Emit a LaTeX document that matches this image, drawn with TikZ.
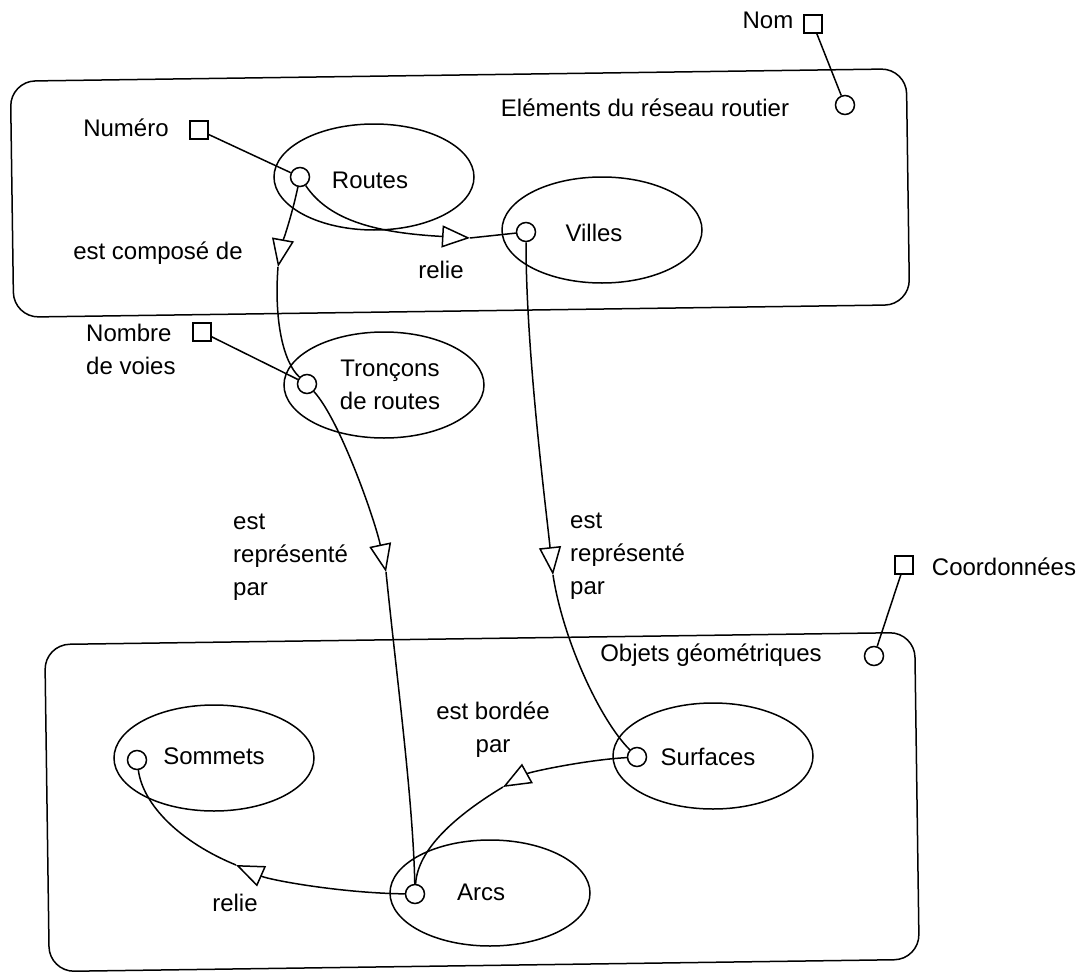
\documentclass[tikz,border=0pt]{standalone}
\usepackage{fontspec}
\setmainfont{Liberation Sans}
\usetikzlibrary{shapes.geometric,arrows.meta}
\begin{document}
\begin{tikzpicture}[x=1pt,y=-1pt,
  every node/.style={font=\fontsize{24}{33}\selectfont, inner sep=0pt},
  group/.style={rectangle, draw, line width=1.5pt, rounded corners=25pt, rotate=0.8},
  entity/.style={ellipse, draw, line width=1.5pt, minimum width=200pt, minimum height=106pt},
  port/.style={circle, draw, line width=1.5pt, minimum size=19pt, fill=white},
  attr/.style={rectangle, draw, line width=1.5pt, minimum size=18pt, fill=white},
  link/.style={line width=1.5pt},
  rel/.style={line width=1.5pt, line join=miter, -{Triangle[fill=white,length=28pt,width=22pt]}},
  ]
\useasboundingbox (0,0) rectangle (1080,972);

% group boxes
\node[group, minimum width=896pt, minimum height=236pt] (reseau) at (460,193) {};
\node[group, minimum width=870pt, minimum height=327pt] (geom) at (482,802) {};

% classes
\node[entity] (routesE) at (374,177) {};
\node[entity] (villesE) at (602,230) {};
\node[entity] (troncE)  at (384,385) {};
\node[entity] (sommE)   at (214,758) {};
\node[entity] (surfE)   at (713,756) {};
\node[entity] (arcsE)   at (490,893) {};

% class names and labels
\node (routesT) at (370,180) {Routes};
\node (villesT) at (594,233) {Villes};
\node[align=center] (troncT) at (390,385) {Tronçons\\de routes};
\node (sommT) at (214,756) {Sommets};
\node (surfT) at (708,757) {Surfaces};
\node (arcsT) at (481,892) {Arcs};
\node (reseauT) at (645,108) {Eléments du réseau routier};
\node (geomT) at (711,655) {Objets géométriques};

\node (nomT) at (768,20) {Nom};
\node (numT) at (126,128) {Numéro};
\node[align=left, anchor=west] (nbT) at (86,349) {Nombre\\de voies};
\node (coordT) at (1004,567) {Coordonnées};

\node (composeT) at (158,253) {est composé de};
\node (relieA) at (441,270) {relie};
\node[align=left, anchor=west] (reprA) at (233,557) {est\\représenté\\par};
\node[align=left, anchor=west] (reprB) at (570,556) {est\\représenté\\par};
\node[align=center] (bordeeT) at (493,730) {est bordée\\par};
\node (relieB) at (235,903) {relie};

% ports of the classes
\node[port] (routesC) at (300,177) {};
\node[port] (villesC) at (526,232) {};
\node[port] (troncC)  at (307,384) {};
\node[port] (sommC)   at (137,760) {};
\node[port] (surfC)   at (637,757) {};
\node[port] (arcsC)   at (415,894) {};
\node[port] (nomC)    at (845,105) {};
\node[port] (objC)    at (874,656) {};

% attributes
\node[attr] (nomSq)   at (813,24) {};
\node[attr] (numSq)   at (199,130) {};
\node[attr] (nbSq)    at (202,332) {};
\node[attr] (coordSq) at (904,565) {};

% arrow positions on the relations
\coordinate (a1) at (278,267);
\coordinate (a2) at (470,238);
\coordinate (a3) at (386,572);
\coordinate (a4) at (553,575);
\coordinate (a5) at (503,787);
\coordinate (a6) at (236,865);

% attribute links
\draw[link] (numSq) -- (routesC);
\draw[link] (nomSq) -- (nomC);
\draw[link] (nbSq) -- (troncC);
\draw[link] (coordSq) -- (objC);

% est compose de
\draw[rel] (routesC) .. controls (292,215) and (282,245) .. (a1);
\draw[link] (a1) .. controls (274,320) and (283,362) .. (troncC);

% relie (routes -> villes)
\draw[rel] (routesC) .. controls (330,222) and (380,233) .. (a2);
\draw[link] (a2) -- (villesC);

% est represente par (troncons -> arcs)
\draw[rel] (troncC) .. controls (340,420) and (375,520) .. (a3);
\draw[link] (a3) .. controls (397,680) and (413,800) .. (arcsC);

% est represente par (villes -> surfaces)
\draw[rel] (villesC) .. controls (526,350) and (545,500) .. (a4);
\draw[link] (a4) .. controls (563,640) and (600,720) .. (surfC);

% est bordee par (surfaces -> arcs)
\draw[rel] (surfC) .. controls (585,760) and (530,772) .. (a5);
\draw[link] (a5) .. controls (465,810) and (418,845) .. (arcsC);

% relie (arcs -> sommets)
\draw[rel] (arcsC) .. controls (340,893) and (270,880) .. (a6);
\draw[link] (a6) .. controls (180,842) and (143,805) .. (sommC);
\end{tikzpicture}
\end{document}
